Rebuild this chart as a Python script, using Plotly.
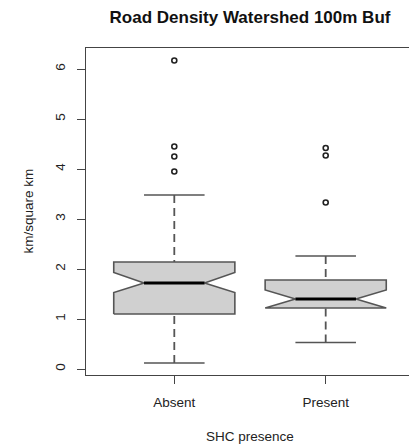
import plotly.graph_objects as go

# ---- data ----
categories = ["Absent", "Present"]
lower_whisker = [0.12, 0.53]
q1 = [1.10, 1.22]
median = [1.72, 1.40]
q3 = [2.14, 1.78]
upper_whisker = [3.48, 2.26]
notch_low = [1.53, 1.22]
notch_high = [1.93, 1.58]
outliers = [[6.17, 4.45, 4.25, 3.95], [4.42, 4.27, 3.33]]
y_ticks = [0, 1, 2, 3, 4, 5, 6]

# ---- style ----
W, H = 409, 448
ML, MT, MB = 86, 48, 73
box_half = 0.4
notch_half = 0.2
cap_half = 0.2
line_col = "#555555"
fill_col = "#d0d0d0"
FONT = "Liberation Sans, Arial, Helvetica, sans-serif"

fig = go.Figure()

for i, cat in enumerate(categories):
    c = i + 1
    L, R = c - box_half, c + box_half
    nl, nr = c - notch_half, c + notch_half
    # whiskers (dashed), drawn from the caps toward the box
    for a, b in [(upper_whisker[i], q3[i]), (lower_whisker[i], q1[i])]:
        fig.add_trace(go.Scatter(x=[c, c], y=[a, b], mode="lines",
                                 line=dict(color=line_col, width=1.8, dash="8px,5px"),
                                 hoverinfo="skip", showlegend=False))
    # notched box polygon
    xs = [L, L, nl, L, L, R, R, nr, R, R, L]
    ys = [q1[i], notch_low[i], median[i], notch_high[i], q3[i],
          q3[i], notch_high[i], median[i], notch_low[i], q1[i], q1[i]]
    fig.add_trace(go.Scatter(x=xs, y=ys, mode="lines", fill="toself",
                             fillcolor=fill_col,
                             line=dict(color=line_col, width=1.6),
                             hoverinfo="skip", showlegend=False))
    # median
    fig.add_trace(go.Scatter(x=[nl, nr], y=[median[i], median[i]], mode="lines",
                             line=dict(color="black", width=3.2),
                             hoverinfo="skip", showlegend=False))
    # caps
    for v in [upper_whisker[i], lower_whisker[i]]:
        fig.add_trace(go.Scatter(x=[c - cap_half, c + cap_half], y=[v, v], mode="lines",
                                 line=dict(color=line_col, width=1.6),
                                 hoverinfo="skip", showlegend=False))
    # outliers
    fig.add_trace(go.Scatter(x=[c] * len(outliers[i]), y=outliers[i], mode="markers",
                             marker=dict(symbol="circle-open", size=5,
                                         color="#222", line=dict(width=1.6)),
                             hoverinfo="skip", showlegend=False))

plot_w = W - ML
px_per_unit = 151.4
x0 = 1 - (174.3 - ML) / px_per_unit
x1 = x0 + plot_w / px_per_unit

fig.update_layout(
    width=W, height=H,
    margin=dict(l=ML, r=0, t=MT, b=MB, pad=0),
    paper_bgcolor="white", plot_bgcolor="white",
    font=dict(family=FONT, size=13.5, color="#222"),
    title=dict(text="<b>Road Density Watershed 100m Buf</b>",
               font=dict(family=FONT, size=17, color="#111"),
               xref="paper", x=(250 - ML) / plot_w, xanchor="center",
               yref="container", y=1 - 17 / H, yanchor="middle"),
    xaxis=dict(range=[x0, x1], tickvals=[1, 2], ticktext=categories,
               showgrid=False, zeroline=False,
               showline=True, linecolor="#444", linewidth=1.4, mirror=True,
               ticks="outside", ticklen=8, tickcolor="#444", tickwidth=1.4,
               ticklabelstandoff=7),
    yaxis=dict(range=[-0.12, 6.42], tickvals=y_ticks,
               showgrid=False, zeroline=False,
               showline=True, linecolor="#444", linewidth=1.4,
               ticks="outside", ticklen=8, tickcolor="#444", tickwidth=1.4,
               tickangle=-90, ticklabelstandoff=6),
    annotations=[
        dict(text="km/square km", xref="paper", yref="paper",
             x=(28 - ML) / plot_w, y=0.5, xanchor="center", yanchor="middle",
             textangle=-90, showarrow=False, font=dict(size=13.5, family=FONT)),
        dict(text="SHC presence", xref="paper", yref="paper",
             x=(250 - ML) / plot_w, y=-(436 - (H - MB)) / (H - MT - MB),
             xanchor="center", yanchor="middle", showarrow=False,
             font=dict(size=13.5, family=FONT)),
    ],
)

fig.write_html("out.html", config={"displayModeBar": False},
               post_script="document.body.style.margin='0px';document.body.style.overflow='hidden';")
